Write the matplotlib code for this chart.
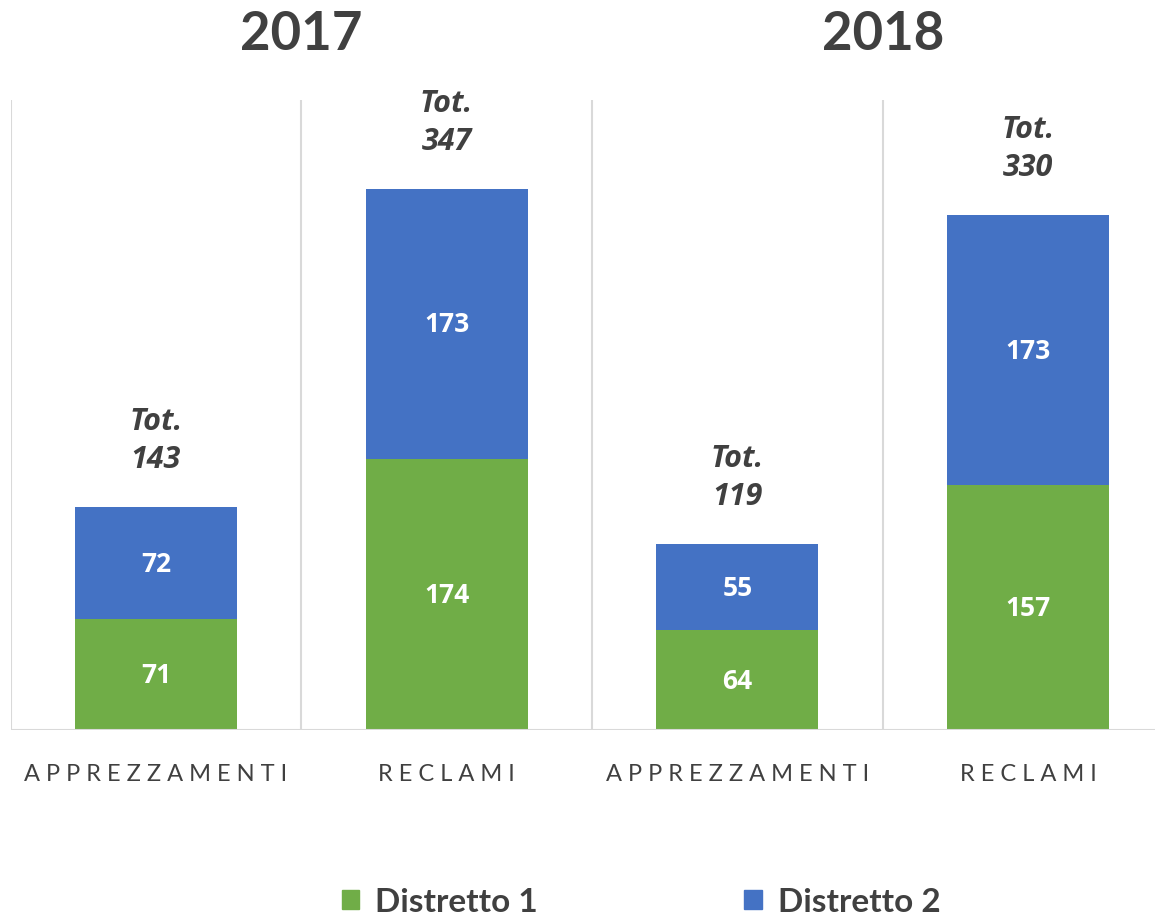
import matplotlib
matplotlib.use("Agg")
import matplotlib.pyplot as plt
from matplotlib.transforms import blended_transform_factory
from matplotlib.patches import Patch

categories = ["APPREZZAMENTI", "RECLAMI", "APPREZZAMENTI", "RECLAMI"]
years = ["2017", "2018"]
distretto1 = [71, 174, 64, 157]
distretto2 = [72, 173, 55, 173]
series_names = ["Distretto 1", "Distretto 2"]

green = "#70AD47"
blue = "#4472C4"
dark = "#404040"
grid = "#D9D9D9"

W, H = 1155, 920
fig = plt.figure(figsize=(W / 100, H / 100), dpi=100)
left = 10.5 / W
bottom = (H - 731) / H
top = (H - 101) / H
ax = fig.add_axes([left, bottom, 1 - left, top - bottom])

x = list(range(len(categories)))
width = 0.557
ax.bar(x, distretto1, width=width, color=green, zorder=3)
ax.bar(x, distretto2, width=width, bottom=distretto1, color=blue, zorder=3)

ax.set_xlim(-0.5, 3.5 - (1173.5 - 1155) / 291)
ax.set_ylim(0, 404)

# separators
for i in range(len(categories)):
    ax.axvline(i - 0.5, color=grid, lw=1.5, zorder=1)
ax.axhline(0, color=grid, lw=1.5, zorder=4)

for s in ax.spines.values():
    s.set_visible(False)
ax.set_yticks([])
ax.set_xticks(x)
ax.set_xticklabels([" ".join(c) for c in categories], fontsize=17,
                   family="Lato", color=dark)
ax.tick_params(axis="x", length=0, pad=24)

# segment labels
for i in x:
    a, b = distretto1[i], distretto2[i]
    ax.text(i, a / 2, str(a), ha="center", va="center", color="white",
            fontsize=19, fontweight="bold", family="Open Sans", zorder=5)
    ax.text(i, a + b / 2, str(b), ha="center", va="center", color="white",
            fontsize=19, fontweight="bold", family="Open Sans", zorder=5)
    tot = a + b
    ax.annotate(f"Tot.\n{tot}", (i, tot), xytext=(0, 24),
                textcoords="offset points", ha="center", va="bottom",
                fontsize=22, fontweight="bold", fontstyle="italic",
                family="Open Sans", color=dark, linespacing=1.35)

# year titles
tr = blended_transform_factory(ax.transData, fig.transFigure)
for k, yr in enumerate(years):
    ax.text(2 * k + 0.5, 1 - 35 / H, yr, transform=tr, ha="center",
            va="center", fontsize=38, fontweight="bold", family="Lato",
            color=dark)

handles = [Patch(color=green), Patch(color=blue)]
fig.legend(handles, series_names, loc="center",
           bbox_to_anchor=(641 / W, 1 - 903 / H), ncol=2, frameon=False,
           prop={"family": "Lato", "weight": "bold", "size": 24},
           labelcolor=dark, handlelength=0.52, handleheight=0.52,
           handletextpad=0.48, columnspacing=6.2)

fig.savefig("out.png", dpi=100)
